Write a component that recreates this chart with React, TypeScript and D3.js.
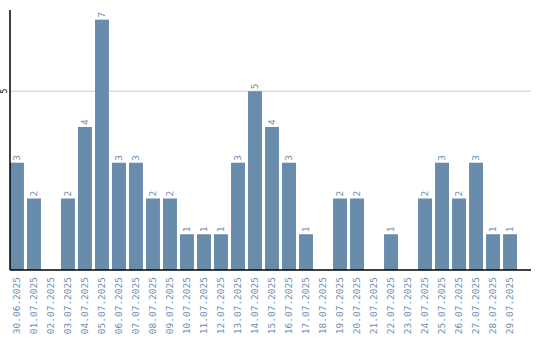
import React from "react";
import * as d3 from "d3";

const dates = [
  "30.06.2025","01.07.2025","02.07.2025","03.07.2025","04.07.2025","05.07.2025",
  "06.07.2025","07.07.2025","08.07.2025","09.07.2025","10.07.2025","11.07.2025",
  "12.07.2025","13.07.2025","14.07.2025","15.07.2025","16.07.2025","17.07.2025",
  "18.07.2025","19.07.2025","20.07.2025","21.07.2025","22.07.2025","23.07.2025",
  "24.07.2025","25.07.2025","26.07.2025","27.07.2025","28.07.2025","29.07.2025",
];
const counts = [3,2,0,2,4,7,3,3,2,2,1,1,1,3,5,4,3,1,0,2,2,0,1,0,2,3,2,3,1,1];
const yTicks = [5];

const W = 540, H = 340;
const left = 10, right = 531, top = 10, bottom = 270;
const barColor = "#6a8cac";
const textColor = "#6b8eb2";
const font = "DejaVu Sans Mono, monospace";

export default function App() {
  const x = d3.scaleBand<string>().domain(dates).range([left, 517]).paddingInner(0.18).paddingOuter(0);
  const y = d3.scaleLinear().domain([0, 7.27]).range([bottom, top]);
  const bw = x.bandwidth();
  return (
    <svg width={W} height={H} style={{ position: "absolute", left: 0, top: 0 }}>
      {yTicks.map((t) => (
        <g key={t}>
          <line x1={left} x2={right} y1={y(t)} y2={y(t)} stroke="#cccccc" strokeWidth={1} />
          <text
            transform={`translate(${left - 3},${y(t)}) rotate(-90)`}
            textAnchor="middle"
            fontSize={8}
            fontFamily={font}
            fill="#000"
          >
            {t}
          </text>
        </g>
      ))}
      {dates.map((d, i) => {
        const v = counts[i];
        const cx = (x(d) as number) + bw / 2;
        return (
          <g key={d}>
            {v > 0 && (
              <rect x={x(d)} y={y(v)} width={bw} height={bottom - y(v)} fill={barColor} />
            )}
            {v > 0 && (
              <text
                transform={`translate(${cx},${y(v) - 2}) rotate(-90)`}
                dy="0.35em"
                textAnchor="start"
                fontSize={9.5}
                fontFamily={font}
                fill={textColor}
              >
                {v}
              </text>
            )}
            <text
              transform={`translate(${cx},${bottom + 7}) rotate(-90)`}
              dy="0.35em"
              textAnchor="end"
              fontSize={9.5}
              fontFamily={font}
              fill={textColor}
            >
              {d}
            </text>
          </g>
        );
      })}
      <line x1={left} x2={left} y1={top} y2={bottom} stroke="#000" strokeWidth={1.5} />
      <line x1={left} x2={right} y1={bottom} y2={bottom} stroke="#000" strokeWidth={1.5} />
    </svg>
  );
}
